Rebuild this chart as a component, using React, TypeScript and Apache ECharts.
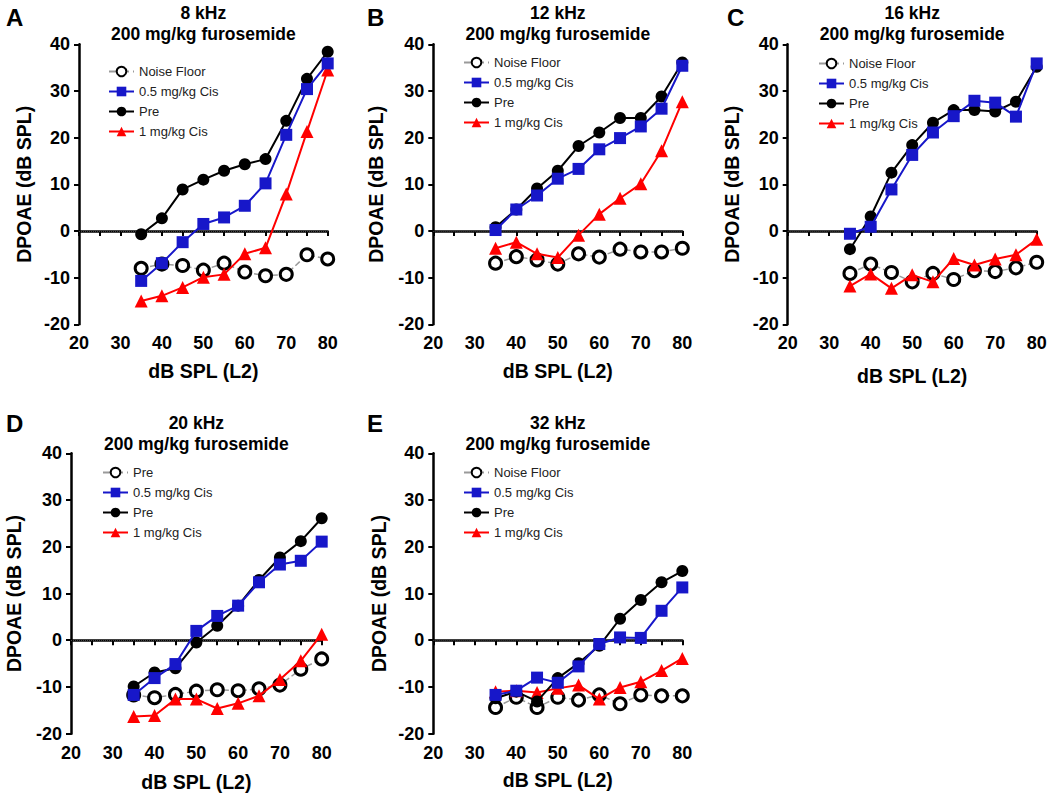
import React, { useEffect, useRef } from "react";
import * as echarts from "echarts";

// ---------- data ----------
const levels = [35, 40, 45, 50, 55, 60, 65, 70, 75, 80];
const yTicks = [-20, -10, 0, 10, 20, 30, 40];
const xTicks = [20, 30, 40, 50, 60, 70, 80];

const panelLetters = ["A", "B", "C", "D", "E"];
const panelFreqs = ["8 kHz", "12 kHz", "16 kHz", "20 kHz", "32 kHz"];
const subtitle = "200 mg/kg furosemide";

const legendStd = ["Noise Floor", "0.5 mg/kg Cis", "Pre", "1 mg/kg Cis"];
const legendD = ["Pre", "0.5 mg/kg Cis", "Pre", "1 mg/kg Cis"];

// Panel A: 8 kHz
const aNoise = [-8, -7.1, -7.4, -8.4, -6.9, -8.8, -9.6, -9.3, -5.1, -6];
const aCis05 = [-10.7, -6.9, -2.4, 1.5, 2.9, 5.4, 10.2, 20.6, 30.4, 35.9];
const aPre = [-0.7, 2.7, 8.9, 11, 12.9, 14.3, 15.4, 23.6, 32.6, 38.4];
const aCis1 = [-15, -13.9, -12.1, -9.9, -9.3, -4.9, -3.6, 7.9, 21.3, 34.5];

// Panel B: 12 kHz
const bNoise = [-6.9, -5.5, -6.2, -7.1, -4.9, -5.6, -3.9, -4.5, -4.5, -3.7];
const bCis05 = [0.2, 4.6, 7.6, 11.2, 13.3, 17.5, 19.9, 22.4, 26.2, 35.4];
const bPre = [0.8, 4.6, 9.1, 12.9, 18.2, 21.1, 24.2, 24.2, 28.8, 36.1];
const bCis1 = [-3.7, -2.4, -4.9, -5.7, -0.9, 3.6, 7, 10.1, 17.2, 27.7];

// Panel C: 16 kHz
const cNoise = [-9.1, -7.1, -8.9, -10.9, -9.1, -10.4, -8.5, -8.7, -7.9, -6.7];
const cCis05 = [-0.6, 0.9, 8.9, 16.3, 21.1, 24.6, 27.9, 27.5, 24.5, 35.9];
const cPre = [-3.9, 3.1, 12.5, 18.4, 23.2, 25.9, 25.9, 25.6, 27.7, 35.2];
const cCis1 = [-11.8, -9.2, -12.3, -9.4, -10.9, -5.9, -7.3, -6, -5.1, -1.8];

// Panel D: 20 kHz
const dNoise = [-11.7, -12.3, -11.6, -10.9, -10.6, -10.8, -10.4, -9.6, -6.2, -4];
const dCis05 = [-11.7, -8.1, -5.1, 2, 5.2, 7.4, 12.4, 16.2, 17, 21.1];
const dPre = [-9.9, -6.9, -6, -0.5, 3.1, 7.4, 12.9, 17.7, 21.2, 26.1];
const dCis1 = [-16.3, -16.1, -12.6, -12.6, -14.6, -13.5, -11.9, -8.4, -4.4, 1.3];

// Panel E: 32 kHz
const eNoise = [-14.4, -12.2, -14.4, -12.2, -12.8, -11.7, -13.6, -11.7, -11.9, -11.9];
const eCis05 = [-11.7, -10.8, -8, -9.1, -5.6, -0.8, 0.6, 0.5, 6.3, 11.3];
const ePre = [-12.4, -11, -13.1, -8.1, -4.9, -1.2, 4.6, 8.6, 12.4, 14.8];
const eCis1 = [-11, -10.8, -11.2, -10.3, -9.6, -12.6, -10.1, -8.9, -6.5, -3.9];

const panelData = [
  [aNoise, aCis05, aPre, aCis1],
  [bNoise, bCis05, bPre, bCis1],
  [cNoise, cCis05, cPre, cCis1],
  [dNoise, dCis05, dPre, dCis1],
  [eNoise, eCis05, ePre, eCis1],
];
const panelLegends = [legendStd, legendStd, legendStd, legendD, legendStd];

// ---------- layout (positions / styles) ----------
const layout = [
  { left: 79, top: 44.3, width: 248.7, height: 280, legendLeft: 108, legendTop: 65, yGap: 45, xGap: 37, letterX: 6, letterY: 17, titleY: 13 },
  { left: 433.3, top: 44.3, width: 249, height: 280, legendLeft: 463, legendTop: 56, yGap: 47, xGap: 37, letterX: 367, letterY: 17, titleY: 13 },
  { left: 787.7, top: 44.3, width: 249, height: 280, legendLeft: 818, legendTop: 57, yGap: 46, xGap: 42, letterX: 727, letterY: 17, titleY: 13 },
  { left: 71, top: 453.3, width: 250.7, height: 280.4, legendLeft: 102, legendTop: 466, yGap: 47, xGap: 38, letterX: 6, letterY: 423, titleY: 423 },
  { left: 433.3, top: 453.3, width: 249, height: 280.4, legendLeft: 463, legendTop: 466, yGap: 44, xGap: 36, letterX: 367, letterY: 423, titleY: 423 },
];

const FONT = '"Liberation Sans", Arial, sans-serif';
const BLUE = "#1717c9";
const RED = "#ff0000";

const seriesStyles = [
  {
    symbol: "circle",
    symbolSize: 12,
    itemStyle: { color: "#ffffff", borderColor: "#000000", borderWidth: 3 },
    lineStyle: { color: "#9a9a9a", width: 1.5, type: "dashed" },
    z: 2,
  },
  {
    symbol: "rect",
    symbolSize: 12,
    itemStyle: { color: BLUE },
    lineStyle: { color: BLUE, width: 2 },
    z: 5,
  },
  {
    symbol: "circle",
    symbolSize: 12,
    itemStyle: { color: "#000000" },
    lineStyle: { color: "#000000", width: 2 },
    z: 4,
  },
  {
    symbol: "triangle",
    symbolSize: 13,
    itemStyle: { color: RED },
    lineStyle: { color: RED, width: 2 },
    z: 3,
  },
];

function buildOption() {
  const grid: any[] = [];
  const xAxis: any[] = [];
  const yAxis: any[] = [];
  const series: any[] = [];
  const legend: any[] = [];
  const graphic: any[] = [];

  layout.forEach((L, p) => {
    grid.push({ left: L.left, top: L.top, width: L.width, height: L.height, containLabel: false });
    const axisCommon = {
      axisLine: { show: true, lineStyle: { color: "#000", width: 2.5 } },
      axisTick: { show: true, length: 5, lineStyle: { color: "#000", width: 2 } },
      splitLine: { show: false },
      nameLocation: "middle",
      nameTextStyle: { fontFamily: FONT, fontWeight: "bold", fontSize: 19.5, color: "#000" },
    };
    xAxis.push({
      ...axisCommon,
      gridIndex: p,
      type: "value",
      min: 20,
      max: 80,
      interval: 5,
      name: "dB SPL (L2)",
      nameGap: L.xGap,
      axisLabel: {
        fontFamily: FONT,
        fontWeight: "bold",
        fontSize: 18,
        color: "#000",
        margin: 10,
        formatter: (v: number) => (xTicks.includes(v) ? String(v) : ""),
      },
    });
    yAxis.push({
      ...axisCommon,
      gridIndex: p,
      type: "value",
      min: yTicks[0],
      max: yTicks[yTicks.length - 1],
      interval: 10,
      name: "DPOAE (dB SPL)",
      nameGap: L.yGap,
      axisLabel: { fontFamily: FONT, fontWeight: "bold", fontSize: 18, color: "#000", margin: 9 },
    });

    const labels = panelLegends[p];
    const names = labels.map((_, k) => `${panelLetters[p]}-${k}`);
    panelData[p].forEach((vals, k) => {
      const s: any = {
        type: "line",
        name: names[k],
        xAxisIndex: p,
        yAxisIndex: p,
        data: levels.map((x, j) => [x, vals[j]]),
        ...seriesStyles[k],
      };
      if (k === 0) {
        s.markLine = {
          silent: true,
          symbol: "none",
          label: { show: false },
          lineStyle: { type: "dotted", color: "#444", width: 1 },
          data: [{ yAxis: 0 }],
          z: 1,
        };
      }
      series.push(s);
    });

    legend.push({
      orient: "vertical",
      left: L.legendLeft,
      top: L.legendTop,
      itemWidth: 25,
      itemHeight: 12,
      itemGap: 7,
      padding: 0,
      data: names,
      formatter: (n: string) => labels[names.indexOf(n)],
      textStyle: { fontFamily: FONT, fontSize: 13, color: "#222" },
    });

    const cx = L.left + L.width / 2;
    graphic.push({
      type: "text",
      x: cx,
      y: L.titleY,
      style: { text: panelFreqs[p], font: `bold 17.5px ${FONT}`, fill: "#000", textAlign: "center", textVerticalAlign: "middle" },
    });
    graphic.push({
      type: "text",
      x: cx,
      y: L.titleY + 21,
      style: { text: subtitle, font: `bold 17.5px ${FONT}`, fill: "#000", textAlign: "center", textVerticalAlign: "middle" },
    });
    graphic.push({
      type: "text",
      x: L.letterX,
      y: L.letterY,
      style: { text: panelLetters[p], font: `bold 24px ${FONT}`, fill: "#000", textAlign: "left", textVerticalAlign: "middle" },
    });
  });

  return {
    animation: false,
    backgroundColor: "#ffffff",
    textStyle: { fontFamily: FONT },
    grid,
    xAxis,
    yAxis,
    series,
    legend,
    graphic,
  };
}

export default function App() {
  const ref = useRef<HTMLDivElement>(null);
  useEffect(() => {
    if (!ref.current) return;
    const chart = echarts.init(ref.current, undefined, { renderer: "svg" });
    chart.setOption(buildOption() as any);
    return () => chart.dispose();
  }, []);
  return (
    <div
      ref={ref}
      style={{ position: "fixed", left: 0, top: 0, width: 1050, height: 802, background: "#fff" }}
    />
  );
}
